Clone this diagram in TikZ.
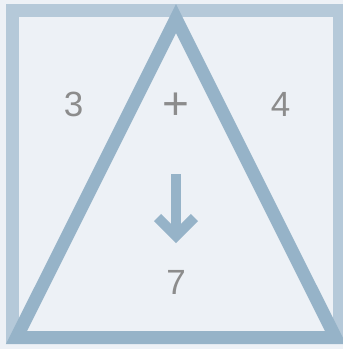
\documentclass[tikz,border=0pt]{standalone}
\usepackage{fontspec}
\setmainfont{Liberation Sans}
\definecolor{bgc}{HTML}{EDF1F6}
\definecolor{sqc}{HTML}{B5C9D9}
\definecolor{tric}{HTML}{96B3C8}
\definecolor{txtc}{HTML}{8C8C8C}
\tikzset{
  numlabel/.style={inner sep=0pt, text=txtc, font=\fontsize{35}{40}\selectfont},
  frame/.style={draw=sqc, line width=13pt, miter limit=10},
  tri/.style={draw=tric, line width=13pt, line join=miter, miter limit=10},
  downarrow/.style={draw=tric, line width=10pt, line join=miter, line cap=butt}
}
\begin{document}
\begin{tikzpicture}[x=1pt,y=-1pt]
  \fill[bgc] (0,0) rectangle (343,349);
  \useasboundingbox (0,0) rectangle (343,349);
  \draw[frame] (12.5,10.5) rectangle (339.5,337.5);
  \draw[tri] (176,18.7) -- (335.5,337.5) -- (16.5,337.5) -- cycle;
  \node[numlabel] (three) at (73.5,104) {3};
  \node[numlabel, font=\fontsize{46}{50}\selectfont] (plus) at (176,106.5) {+};
  \node[numlabel] (four) at (280.5,104) {4};
  \node[numlabel] (seven) at (176,282.5) {7};
  \coordinate (atop) at (176,174);
  \coordinate (atip) at (176,236);
  \coordinate (aleft) at (157.5,217.5);
  \coordinate (aright) at (194.5,217.5);
  \draw[downarrow] (atop) -- (atip);
  \draw[downarrow] (aleft) -- (atip) -- (aright);
\end{tikzpicture}
\end{document}
